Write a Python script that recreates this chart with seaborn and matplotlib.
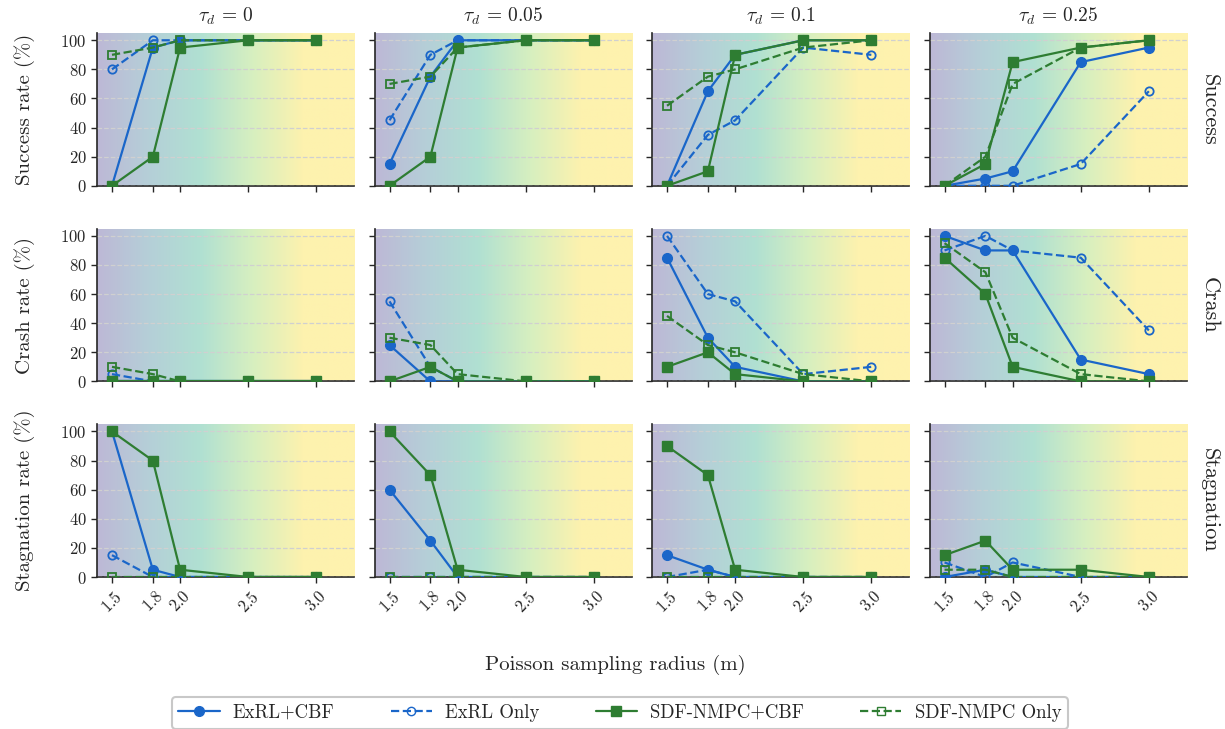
import numpy as np
import pandas as pd
import matplotlib
matplotlib.use("Agg")
import matplotlib.pyplot as plt
import seaborn as sns
from matplotlib import colors
from matplotlib.lines import Line2D

# sampling radii and delay settings
radius = [1.5, 1.8, 2.0, 2.5, 3.0]
tau_labels = ["0", "0.05", "0.1", "0.25"]
metrics = ["Success", "Crash", "Stagnation"]

# success rate (%) per tau_d column
exrl_cbf_success = [[0, 95, 100, 100, 100], [15, 75, 100, 100, 100],
                    [0, 65, 90, 100, 100], [0, 5, 10, 85, 95]]
exrl_only_success = [[80, 100, 100, 100, 100], [45, 90, 100, 100, 100],
                     [0, 35, 45, 95, 90], [0, 0, 0, 15, 65]]
nmpc_cbf_success = [[0, 20, 95, 100, 100], [0, 20, 95, 100, 100],
                    [0, 10, 90, 100, 100], [0, 15, 85, 95, 100]]
nmpc_only_success = [[90, 95, 100, 100, 100], [70, 75, 95, 100, 100],
                     [55, 75, 80, 95, 100], [0, 20, 70, 95, 100]]

# crash rate (%)
exrl_cbf_crash = [[0, 0, 0, 0, 0], [25, 0, 0, 0, 0],
                  [85, 30, 10, 0, 0], [100, 90, 90, 15, 5]]
exrl_only_crash = [[5, 0, 0, 0, 0], [55, 10, 0, 0, 0],
                   [100, 60, 55, 5, 10], [90, 100, 90, 85, 35]]
nmpc_cbf_crash = [[0, 0, 0, 0, 0], [0, 10, 0, 0, 0],
                  [10, 20, 5, 0, 0], [85, 60, 10, 0, 0]]
nmpc_only_crash = [[10, 5, 0, 0, 0], [30, 25, 5, 0, 0],
                   [45, 25, 20, 5, 0], [95, 75, 30, 5, 0]]

# stagnation rate (%)
exrl_cbf_stag = [[100, 5, 0, 0, 0], [60, 25, 0, 0, 0],
                 [15, 5, 0, 0, 0], [0, 5, 0, 0, 0]]
exrl_only_stag = [[15, 0, 0, 0, 0], [0, 0, 0, 0, 0],
                  [0, 5, 0, 0, 0], [10, 0, 10, 0, 0]]
nmpc_cbf_stag = [[100, 80, 5, 0, 0], [100, 70, 5, 0, 0],
                 [90, 70, 5, 0, 0], [15, 25, 5, 5, 0]]
nmpc_only_stag = [[0, 0, 0, 0, 0], [0, 0, 0, 0, 0],
                  [0, 0, 0, 0, 0], [5, 5, 0, 0, 0]]

methods = ["ExRL+CBF", "ExRL Only", "SDF-NMPC+CBF", "SDF-NMPC Only"]
data = {
    "Success": [exrl_cbf_success, exrl_only_success, nmpc_cbf_success, nmpc_only_success],
    "Crash": [exrl_cbf_crash, exrl_only_crash, nmpc_cbf_crash, nmpc_only_crash],
    "Stagnation": [exrl_cbf_stag, exrl_only_stag, nmpc_cbf_stag, nmpc_only_stag],
}

BLUE = "#1a66c9"
GREEN = "#2e7d32"
# color, linestyle, marker, filled
styles = {
    "ExRL+CBF": (BLUE, "-", "o", True),
    "ExRL Only": (BLUE, "--", "o", False),
    "SDF-NMPC+CBF": (GREEN, "-", "s", True),
    "SDF-NMPC Only": (GREEN, "--", "s", False),
}

sns.set_theme(style="ticks")
plt.rcParams["font.family"] = ["cmr10", "DejaVu Serif"]
plt.rcParams["mathtext.fontset"] = "cm"
plt.rcParams["axes.formatter.use_mathtext"] = True
plt.rcParams["axes.unicode_minus"] = False

bg_cmap = colors.LinearSegmentedColormap.from_list(
    "bg", ["#bdb8d6", "#b5cfd8", "#b0e0d2", "#d6efc0", "#fdf2ae", "#fff2ae"])
grad = np.linspace(0, 1, 256).reshape(1, -1)

fig, axes = plt.subplots(3, 4, figsize=(12.25, 7.29), dpi=100, sharex=True, sharey=True)
fig.subplots_adjust(left=97 / 1225, right=1187 / 1225, top=1 - 33 / 729,
                    bottom=1 - 577 / 729, wspace=0.078, hspace=0.28)

for r, metric in enumerate(metrics):
    for c, tau in enumerate(tau_labels):
        ax = axes[r, c]
        ax.imshow(grad, extent=(0, 1, 0, 1), transform=ax.transAxes, aspect="auto",
                  cmap=bg_cmap, zorder=0)
        for m_i, name in enumerate(methods):
            col, ls, mk, filled = styles[name]
            df = pd.DataFrame({"radius": radius, "rate": data[metric][m_i][c]})
            sns.lineplot(data=df, x="radius", y="rate", ax=ax, color=col, linestyle=ls,
                         marker=mk, markersize=7 if filled else 6,
                         markerfacecolor=col if filled else "none",
                         markeredgecolor=col, markeredgewidth=1.3 if not filled else 1,
                         linewidth=1.6, zorder=3)
        ax.set_xlim(1.39, 3.28)
        ax.set_ylim(0, 105)
        ax.set_xticks(radius)
        ax.set_yticks([0, 20, 40, 60, 80, 100])
        ax.grid(axis="y", linestyle="--", color="#d0d0d0", linewidth=0.9, zorder=1)
        ax.set_axisbelow(False)
        ax.set_xlabel("")
        ax.set_ylabel("")
        ax.tick_params(labelsize=12, length=4, width=1)
        for s in ["top", "right"]:
            ax.spines[s].set_visible(False)
        for s in ["left", "bottom"]:
            ax.spines[s].set_linewidth(1.2)
        if r == 0:
            ax.set_title(r"$\tau_d\,=\,%s$" % tau, fontsize=14, pad=8)
        if c == 0:
            ax.set_ylabel(f"{metric} rate (%)", fontsize=15, labelpad=18)
        if c == 3:
            ax.text(1.05, 0.5, metric, transform=ax.transAxes, rotation=-90,
                    va="center", ha="left", fontsize=16)
        if r == 2:
            for lab in ax.get_xticklabels():
                lab.set_rotation(45)

fig.text(0.502, 1 - 665 / 729, "Poisson sampling radius (m)", ha="center", va="center",
         fontsize=15)

handles = []
for name in methods:
    col, ls, mk, filled = styles[name]
    handles.append(Line2D([], [], color=col, linestyle=ls, marker=mk, linewidth=1.6,
                          markersize=7 if filled else 6,
                          markerfacecolor=col if filled else "none",
                          markeredgecolor=col))
leg = fig.legend(handles, methods, loc="center", bbox_to_anchor=(0.506, 1 - 713 / 729),
                 ncol=4, fontsize=13.5, frameon=True, columnspacing=3.0, handlelength=2.2,
                 handletextpad=0.7, borderpad=0.35, edgecolor="#bbbbbb", fancybox=True)
leg.get_frame().set_linewidth(1.5)

fig.savefig("out.png", dpi=100)
